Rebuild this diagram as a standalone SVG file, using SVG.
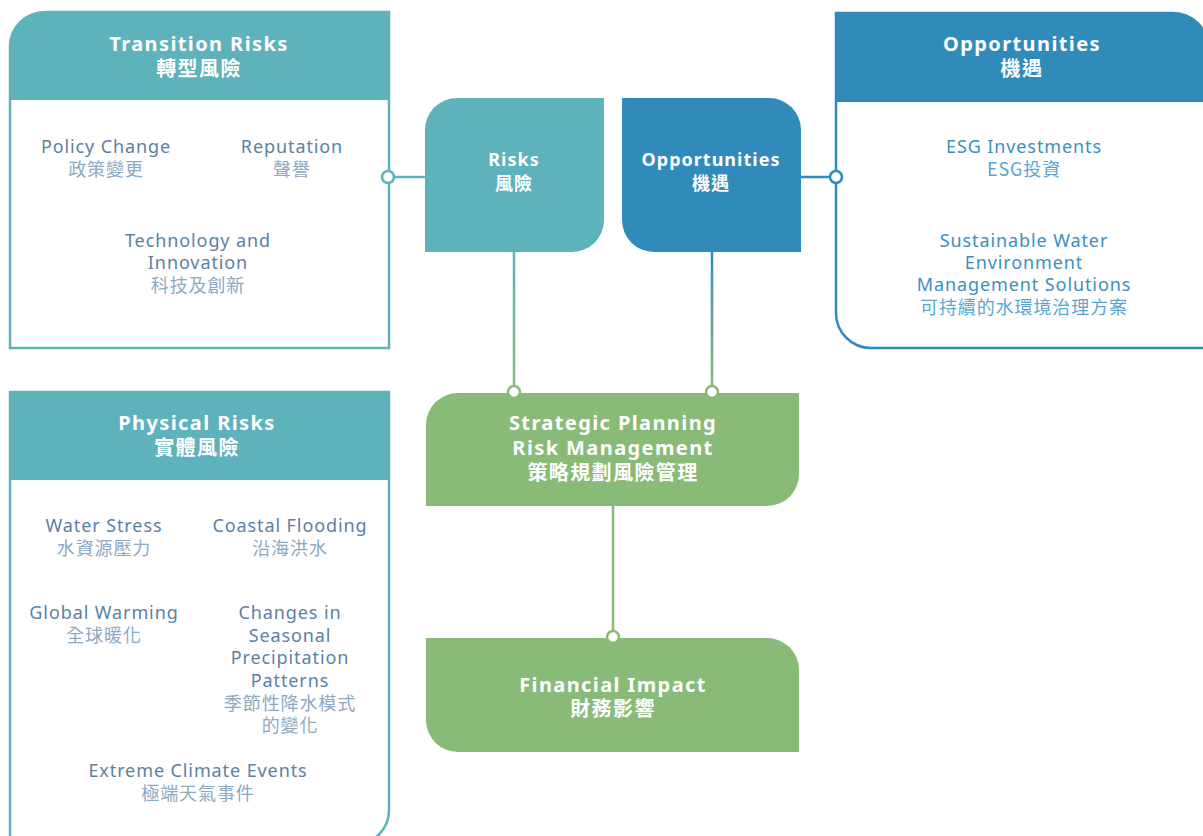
<svg xmlns="http://www.w3.org/2000/svg" width="1203" height="836" viewBox="0 0 1203 836">
<defs>
<style>
.hd{font-family:"Noto Sans","Noto Sans CJK TC",sans-serif;font-weight:bold;font-size:20px;fill:#fff;text-anchor:middle;dominant-baseline:central;letter-spacing:1.4px}
.hs{font-size:18px;letter-spacing:1px}
.en{font-family:"Noto Sans","Noto Sans CJK TC",sans-serif;font-size:18px;fill:#5B81A2;text-anchor:middle;dominant-baseline:central;letter-spacing:0.9px}
.zh{font-family:"Noto Sans CJK TC","Noto Sans",sans-serif;fill:#8CA9C2;letter-spacing:0.9px}
.ben{fill:#3B8FC2}
.bzh{fill:#5BA6D0}
.tealbox{fill:#fff;stroke:#5EB2BC;stroke-width:2.5}
.bluebox{fill:#fff;stroke:#318BBA;stroke-width:2.5}
.dot{fill:#fff;stroke-width:2.5}
</style>
<linearGradient id="gT" x1="0" y1="252" x2="0" y2="392" gradientUnits="userSpaceOnUse"><stop offset="0" stop-color="#5EB2BC"/><stop offset="1" stop-color="#88BA78"/></linearGradient>
<linearGradient id="gB" x1="0" y1="252" x2="0" y2="392" gradientUnits="userSpaceOnUse"><stop offset="0" stop-color="#318BBA"/><stop offset="1" stop-color="#88BA78"/></linearGradient>
</defs>
<rect width="1203" height="836" fill="#fff"/>

<g id="connectors">
<line x1="389" y1="177" x2="426" y2="177" stroke="#5EB2BC" stroke-width="2.5"/>
<line x1="800" y1="177" x2="836" y2="177" stroke="#318BBA" stroke-width="2.5"/>
<line x1="514" y1="252" x2="514" y2="392" stroke="url(#gT)" stroke-width="2.5"/>
<line x1="712" y1="252" x2="712" y2="392" stroke="url(#gB)" stroke-width="2.5"/>
<line x1="613" y1="506" x2="613" y2="637" stroke="#88BA78" stroke-width="2.5"/>
</g>

<g id="transition-risks">
<path class="tealbox" d="M10,348 L10,47 A35,35 0 0 1 45,12 L389,12 L389,348 Z"/>
<path fill="#5EB2BC" d="M10,100 L10,47 A35,35 0 0 1 45,12 L389,12 L389,100 Z"/>
<text class="hd" x="199" y="43">Transition Risks<tspan x="199" dy="25">轉型風險</tspan></text>
<text class="en" x="106" y="146">Policy Change<tspan class="zh" x="106" dy="22">政策變更</tspan></text>
<text class="en" x="292" y="146">Reputation<tspan class="zh" x="292" dy="22">聲譽</tspan></text>
<text class="en" x="198" y="240">Technology and<tspan x="198" dy="22">Innovation</tspan><tspan class="zh" x="198" dy="22">科技及創新</tspan></text>
</g>

<g id="opportunities-detail">
<path class="bluebox" d="M836,13 L1173,13 A35,35 0 0 1 1208,48 L1208,348 L871,348 A35,35 0 0 1 836,313 Z"/>
<path fill="#318BBA" d="M836,102 L836,13 L1173,13 A35,35 0 0 1 1208,48 L1208,102 Z"/>
<text class="hd" x="1022" y="43">Opportunities<tspan x="1022" dy="25">機遇</tspan></text>
<text class="en ben" x="1024" y="146">ESG Investments<tspan class="zh bzh" x="1024" dy="22">ESG投資</tspan></text>
<text class="en ben" x="1024" y="240">Sustainable Water<tspan x="1024" dy="22">Environment</tspan><tspan x="1024" dy="22">Management Solutions</tspan><tspan class="zh bzh" x="1024" dy="22">可持續的水環境治理方案</tspan></text>
</g>

<g id="physical-risks">
<path class="tealbox" d="M10,392 L389,392 L389,810 A35,35 0 0 1 354,845 L10,845 Z"/>
<path fill="#5EB2BC" d="M10,392 L389,392 L389,480 L10,480 Z"/>
<text class="hd" x="197" y="422">Physical Risks<tspan x="197" dy="25">實體風險</tspan></text>
<text class="en" x="104" y="525">Water Stress<tspan class="zh" x="104" dy="22">水資源壓力</tspan></text>
<text class="en" x="290" y="525">Coastal Flooding<tspan class="zh" x="290" dy="22">沿海洪水</tspan></text>
<text class="en" x="104" y="612">Global Warming<tspan class="zh" x="104" dy="22">全球暖化</tspan></text>
<text class="en" x="290" y="612">Changes in<tspan x="290" dy="23">Seasonal</tspan><tspan x="290" dy="22">Precipitation</tspan><tspan x="290" dy="23">Patterns</tspan><tspan class="zh" x="290" dy="22">季節性降水模式</tspan><tspan class="zh" x="290" dy="22">的變化</tspan></text>
<text class="en" x="198" y="770">Extreme Climate Events<tspan class="zh" x="198" dy="22">極端天氣事件</tspan></text>
</g>

<g id="risks">
<path fill="#5EB2BC" d="M425,252 L425,130 A32,32 0 0 1 457,98 L604,98 L604,220 A32,32 0 0 1 572,252 Z"/>
<text class="hd hs" x="514" y="159">Risks<tspan x="514" dy="24">風險</tspan></text>
</g>

<g id="opportunities">
<path fill="#318BBA" d="M622,98 L769,98 A32,32 0 0 1 801,130 L801,252 L654,252 A32,32 0 0 1 622,220 Z"/>
<text class="hd hs" x="711" y="159">Opportunities<tspan x="711" dy="24">機遇</tspan></text>
</g>

<g id="strategic-planning">
<path fill="#88BA78" d="M426,506 L426,425 A32,32 0 0 1 458,393 L799,393 L799,474 A32,32 0 0 1 767,506 Z"/>
<text class="hd" x="613" y="422">Strategic Planning<tspan x="613" dy="25">Risk Management</tspan><tspan x="613" dy="25">策略規劃風險管理</tspan></text>
</g>

<g id="financial-impact">
<path fill="#88BA78" d="M426,638 L767,638 A32,32 0 0 1 799,670 L799,752 L458,752 A32,32 0 0 1 426,720 Z"/>
<text class="hd" x="613" y="684">Financial Impact<tspan x="613" dy="24">財務影響</tspan></text>
</g>

<g id="connector-dots">
<circle class="dot" cx="388" cy="177" r="6" stroke="#5EB2BC"/>
<circle class="dot" cx="836" cy="177" r="6" stroke="#318BBA"/>
<circle class="dot" cx="514" cy="392" r="6" stroke="#88BA78"/>
<circle class="dot" cx="712" cy="392" r="6" stroke="#88BA78"/>
<circle class="dot" cx="613" cy="637" r="6" stroke="#88BA78"/>
</g>
</svg>
